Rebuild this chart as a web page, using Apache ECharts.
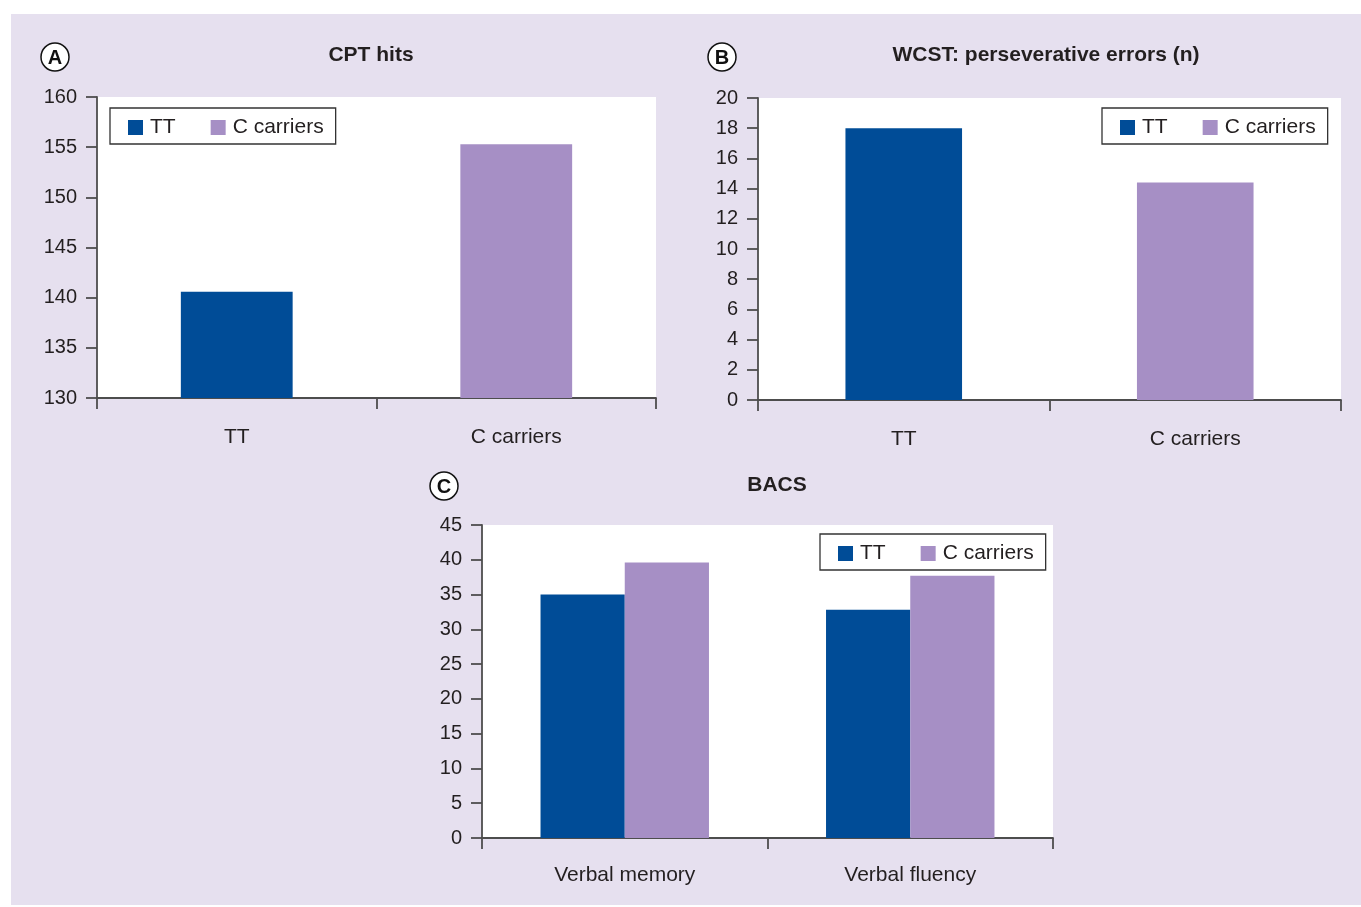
<!DOCTYPE html>
<html>
<head>
<meta charset="utf-8">
<script src="https://cdn.jsdelivr.net/npm/echarts@6/dist/echarts.min.js"></script>
<style>
  html, body { margin: 0; padding: 0; background: #ffffff; }
  #bg { position: absolute; left: 11px; top: 14px; width: 1350px; height: 891px; background: #e6e0ef; }
  #chart { position: absolute; left: 0; top: 0; width: 1361px; height: 907px; }
</style>
</head>
<body>
<div id="bg"></div>
<div id="chart"></div>
<script>
// ---- Data ----
const seriesNames = ['TT', 'C carriers'];

const categoriesA = ['TT', 'C carriers'];
const ttA = [140.6, '-'];
const cA = ['-', 155.3];

const categoriesB = ['TT', 'C carriers'];
const ttB = [18.0, '-'];
const cB = ['-', 14.4];

const categoriesC = ['Verbal memory', 'Verbal fluency'];
const ttC = [35.0, 32.8];
const cC = [39.6, 37.7];

const titleA = 'CPT hits';
const titleB = 'WCST: perseverative errors (n)';
const titleC = 'BACS';

// ---- Styles ----
const BLUE = '#004c97';
const PURPLE = '#a68fc5';
const TEXT = '#231f20';
const AXIS = '#4d4d4d';
const FONT = '"Liberation Sans", Arial, Helvetica, sans-serif';

function yAxisCfg(grid, min, max, interval) {
  return {
    type: 'value', gridIndex: grid, min: min, max: max, interval: interval,
    axisLine: { show: true, lineStyle: { color: AXIS, width: 1.8 } },
    axisTick: { show: true, length: 11, lineStyle: { color: AXIS, width: 1.8 } },
    axisLabel: { color: TEXT, fontSize: 20, fontFamily: FONT, margin: 20, padding: [4, 0, 0, 0] },
    splitLine: { show: false }
  };
}
function xAxisCfg(grid, cats, margin) {
  return {
    type: 'category', gridIndex: grid, data: cats,
    axisLine: { show: true, lineStyle: { color: AXIS, width: 1.8 } },
    axisTick: { show: true, length: 11, alignWithLabel: false, lineStyle: { color: AXIS, width: 1.8 } },
    axisLabel: { color: TEXT, fontSize: 21, fontFamily: FONT, margin: margin },
    splitLine: { show: false }
  };
}
function legendCfg(left, top) {
  return {
    left: left, top: top, orient: 'horizontal',
    data: seriesNames, selectedMode: false,
    icon: 'rect', itemWidth: 15, itemHeight: 15, itemGap: 35,
    padding: [9, 12, 6, 18],
    borderColor: '#333', borderWidth: 1.3, backgroundColor: '#ffffff',
    textStyle: { color: TEXT, fontSize: 21, fontFamily: FONT, padding: [1, 0, 0, 2] }
  };
}
function circleLabel(cx, cy, letter) {
  return [
    { type: 'circle', shape: { cx: cx, cy: cy, r: 14 }, style: { fill: '#ffffff', stroke: '#111', lineWidth: 1.5 }, z: 10 },
    { type: 'text', x: cx, y: cy + 1, style: { text: letter, fill: '#111', fontSize: 20, fontWeight: 'bold', fontFamily: FONT, align: 'center', verticalAlign: 'middle' }, z: 11 }
  ];
}
function titleText(cx, cy, txt) {
  return { type: 'text', x: cx, y: cy, style: { text: txt, fill: TEXT, fontSize: 21, fontWeight: 'bold', fontFamily: FONT, align: 'center', verticalAlign: 'middle' }, z: 10 };
}

const chart = echarts.init(document.getElementById('chart'), null, { renderer: 'canvas' });

const gridStyle = { show: true, backgroundColor: '#ffffff', borderWidth: 0, containLabel: false };

const option = {
  backgroundColor: 'transparent',
  animation: false,
  grid: [
    Object.assign({ left: 97, top: 97, width: 559, height: 301 }, gridStyle),
    Object.assign({ left: 758, top: 98, width: 583, height: 302 }, gridStyle),
    Object.assign({ left: 482, top: 525, width: 571, height: 313 }, gridStyle)
  ],
  xAxis: [
    xAxisCfg(0, categoriesA, 29),
    xAxisCfg(1, categoriesB, 29),
    xAxisCfg(2, categoriesC, 27)
  ],
  yAxis: [
    yAxisCfg(0, 130, 160, 5),
    yAxisCfg(1, 0, 20, 2),
    yAxisCfg(2, 0, 45, 5)
  ],
  legend: [
    legendCfg(110, 108),
    legendCfg(1102, 108),
    legendCfg(820, 534)
  ],
  graphic: [].concat(
    circleLabel(55, 57, 'A'),
    circleLabel(722, 57, 'B'),
    circleLabel(444, 486, 'C'),
    [titleText(371, 55, titleA), titleText(1046, 55, titleB), titleText(777, 485, titleC)]
  ),
  series: [
    { name: seriesNames[0], type: 'bar', xAxisIndex: 0, yAxisIndex: 0, data: ttA, barWidth: '40%', barGap: '-100%', itemStyle: { color: BLUE } },
    { name: seriesNames[1], type: 'bar', xAxisIndex: 0, yAxisIndex: 0, data: cA, barWidth: '40%', barGap: '-100%', itemStyle: { color: PURPLE } },
    { name: seriesNames[0], type: 'bar', xAxisIndex: 1, yAxisIndex: 1, data: ttB, barWidth: '40%', barGap: '-100%', itemStyle: { color: BLUE } },
    { name: seriesNames[1], type: 'bar', xAxisIndex: 1, yAxisIndex: 1, data: cB, barWidth: '40%', barGap: '-100%', itemStyle: { color: PURPLE } },
    { name: seriesNames[0], type: 'bar', xAxisIndex: 2, yAxisIndex: 2, data: ttC, barGap: '0%', barCategoryGap: '41%', itemStyle: { color: BLUE } },
    { name: seriesNames[1], type: 'bar', xAxisIndex: 2, yAxisIndex: 2, data: cC, barGap: '0%', barCategoryGap: '41%', itemStyle: { color: PURPLE } }
  ]
};
chart.setOption(option);
</script>
</body>
</html>
